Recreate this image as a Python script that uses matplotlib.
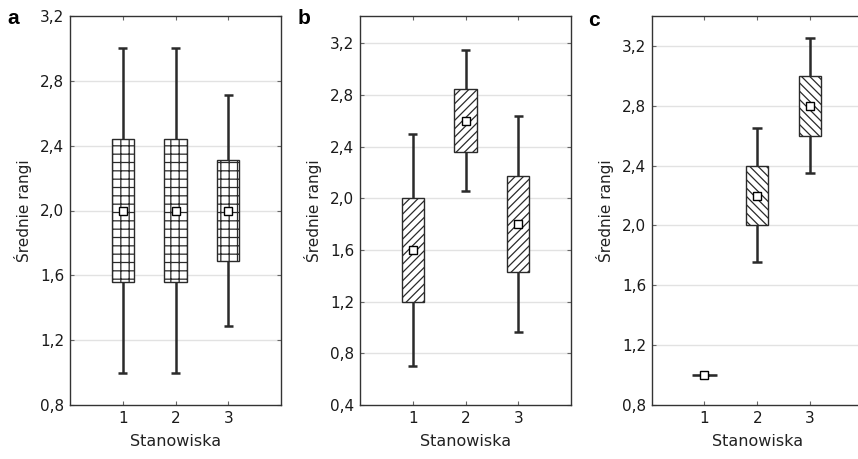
import matplotlib
matplotlib.use("Agg")
import matplotlib.pyplot as plt
import numpy as np

plt.rcParams['font.family'] = ['DejaVu Sans']
plt.rcParams['hatch.linewidth'] = 0.9
plt.rcParams['hatch.color'] = '#444444'

# Data
stations = [1, 2, 3]
station_labels = ["1", "2", "3"]

# Panel a
a_mean = [2.0, 2.0, 2.0]
a_box_low = [1.556, 1.556, 1.69]
a_box_high = [2.444, 2.444, 2.31]
a_whisk_low = [1.0, 1.0, 1.29]
a_whisk_high = [3.0, 3.0, 2.71]

# Panel b
b_mean = [1.6, 2.6, 1.8]
b_box_low = [1.2, 2.36, 1.43]
b_box_high = [2.0, 2.845, 2.175]
b_whisk_low = [0.70, 2.055, 0.967]
b_whisk_high = [2.50, 3.15, 2.637]

# Panel c
c_mean = [1.0, 2.2, 2.8]
c_box_low = [1.0, 2.0, 2.6]
c_box_high = [1.0, 2.4, 3.0]
c_whisk_low = [1.0, 1.753, 2.35]
c_whisk_high = [1.0, 2.65, 3.25]

a_yticks = [0.8, 1.2, 1.6, 2.0, 2.4, 2.8, 3.2]
b_yticks = [0.4, 0.8, 1.2, 1.6, 2.0, 2.4, 2.8, 3.2]
c_yticks = [0.8, 1.2, 1.6, 2.0, 2.4, 2.8, 3.2]

panels = [
    dict(letter="a", mean=a_mean, lo=a_box_low, hi=a_box_high, wl=a_whisk_low, wh=a_whisk_high,
         ylim=(0.8, 3.2), yticks=a_yticks, hatch='++', left=70),
    dict(letter="b", mean=b_mean, lo=b_box_low, hi=b_box_high, wl=b_whisk_low, wh=b_whisk_high,
         ylim=(0.4, 3.41), yticks=b_yticks, hatch='////', left=360),
    dict(letter="c", mean=c_mean, lo=c_box_low, hi=c_box_high, wl=c_whisk_low, wh=c_whisk_high,
         ylim=(0.8, 3.40), yticks=c_yticks, hatch='\\\\\\\\', left=651.7),
]

W, H = 858, 459
fig = plt.figure(figsize=(W / 100, H / 100), dpi=100)

box_w = 0.42
cap_w = 0.18
edge = '#2a2a2a'
spine_c = '#333333'

for p in panels:
    ax = fig.add_axes([p['left'] / W, 1 - 405 / H, 211 / W, (405 - 16) / H])
    ax.set_xlim(0, 4)
    ax.set_ylim(*p['ylim'])
    ax.set_yticks(p['yticks'])
    ax.set_yticklabels([f"{t:.1f}".replace('.', ',') for t in p['yticks']])
    ax.set_xticks(stations)
    ax.set_xticklabels(station_labels)
    for t in p['yticks']:
        if p['ylim'][0] < t < p['ylim'][1] - 1e-6:
            ax.axhline(t, color='#e2e2e2', lw=1.0, zorder=0)
    x = np.array(stations, dtype=float)
    # whiskers
    ax.vlines(x, p['wl'], p['wh'], color=edge, lw=1.8, zorder=2)
    ax.hlines(p['wl'], x - cap_w / 2, x + cap_w / 2, color=edge, lw=1.8, zorder=2)
    ax.hlines(p['wh'], x - cap_w / 2, x + cap_w / 2, color=edge, lw=1.8, zorder=2)
    # boxes
    heights = np.array(p['hi']) - np.array(p['lo'])
    ax.bar(x, heights, width=box_w, bottom=p['lo'], color='white', edgecolor=edge,
           hatch=p['hatch'], lw=1.0, zorder=3)
    # collapsed boxes drawn as a line
    for xi, lo, h in zip(x, p['lo'], heights):
        if h == 0:
            ax.hlines([lo], xi - box_w / 2 - 0.03, xi + box_w / 2 + 0.03, color=edge, lw=1.8, zorder=3)
    # mean markers
    ax.plot(x, p['mean'], 's', ms=5.2, mfc='white', mec='black', mew=1.0, zorder=4, ls='none')

    for s in ax.spines.values():
        s.set_color(spine_c)
        s.set_linewidth(1.0)
    ax.tick_params(direction='in', length=3, width=0.8, color='#666666',
                   top=True, right=True, labelsize=11, labelcolor='#1a1a1a', pad=4)
    ax.set_xlabel("Stanowiska", fontsize=11.5, color='#222222', labelpad=6)
    ax.set_ylabel("Średnie rangi", fontsize=11, color='#222222', labelpad=6)

letter_font = ['Liberation Sans', 'DejaVu Sans']
fig.text(7 / W, 1 - 19 / H, "a", fontsize=15, fontweight='bold', va='center', ha='left', family=letter_font)
fig.text(298 / W, 1 - 19 / H, "b", fontsize=15, fontweight='bold', va='center', ha='left', family=letter_font)
fig.text(588 / W, 1 - 20 / H, "c", fontsize=15, fontweight='bold', va='center', ha='left', family=letter_font)

fig.savefig("out.png", dpi=100)
